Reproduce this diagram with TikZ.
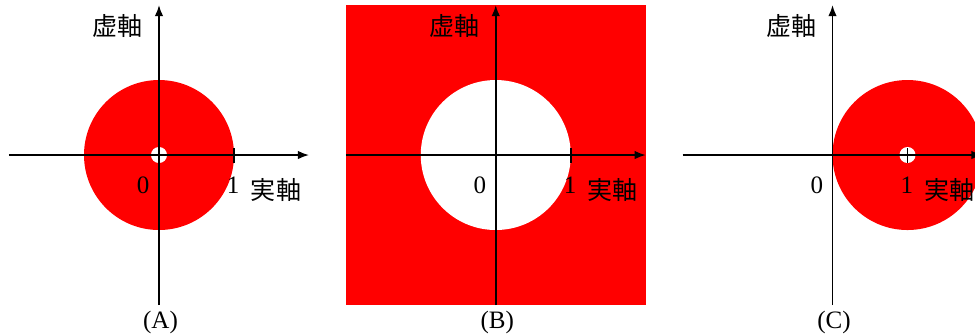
\documentclass[tikz,border=0pt]{standalone}
\usepackage{fontspec}
\setmainfont{Liberation Serif}
\newfontfamily\jpfont{Noto Sans CJK JP}
\usetikzlibrary{arrows.meta}
\definecolor{ringred}{RGB}{255,0,0}
\tikzset{
	axisline/.style={line width=0.6pt,-{Latex[length=4.2pt,width=3.2pt]}},
	lbl/.style={font=\fontsize{9.5}{11}\selectfont,inner sep=0pt},
	jlbl/.style={inner sep=0pt,font=\fontsize{9.5}{11}\selectfont\jpfont}
}

\begin{document}
\begin{tikzpicture}
		\useasboundingbox (-2.12,-2.413) rectangle (10.88,2.067);
		\clip (-2.12,-2.413) rectangle (10.88,2.067);
		% (A)
		\fill[ringred] (0,0) circle (1);
		\fill[white] (0,0) circle (0.107);
		% (B)
		\fill[ringred] (2.49,-2) rectangle (6.49,2);
		\fill[white] (4.49,0) circle (1);
		% (C)
		\fill[ringred] (9.98,0) circle (1);
		\fill[white] (9.98,0) circle (0.107);
		\foreach \p/\c in {0/A,1/B,2/C}{
			\begin{scope}[xshift=\p*4.49cm]
				\coordinate (w\c) at (-2,0);
				\coordinate (e\c) at (2,0);
				\coordinate (s\c) at (0,-2);
				\coordinate (n\c) at (0,2);
				\draw[axisline] (w\c) -- (e\c);
				\draw[axisline] (s\c) -- (n\c);
				\draw[line width=0.6pt] (1,-0.1) -- (1,0.1);
				\node[lbl] (zero\c) at (-0.21,-0.40) {0};
				\node[lbl] (one\c) at (0.99,-0.40) {1};
				\node[jlbl] (re\c) at (1.56,-0.47) {実軸};
				\node[jlbl] (im\c) at (-0.55,1.72) {虚軸};
				\node[lbl] (cap\c) at (0.02,-2.227) {(\c)};
			\end{scope}
		}
	\end{tikzpicture}
\end{document}
